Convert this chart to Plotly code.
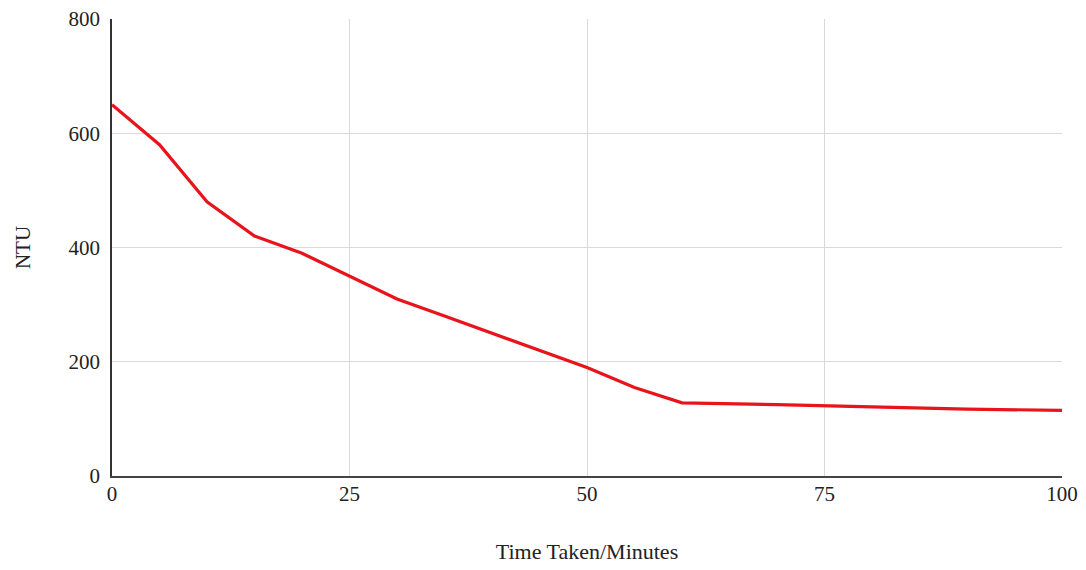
import plotly.graph_objects as go

time_min = [0, 5, 10, 15, 20, 25, 30, 35, 40, 45, 50, 55, 60, 70, 80, 90, 100]
ntu = [650, 580, 480, 420, 390, 350, 310, 280, 250, 220, 190, 155, 128, 125, 121, 117, 115]

x_ticks = [0, 25, 50, 75, 100]
y_ticks = [0, 200, 400, 600, 800]

fig = go.Figure()
fig.add_trace(go.Scatter(
    x=time_min, y=ntu, mode="lines",
    line=dict(color="#e8141c", width=3.2),
    showlegend=False,
))

serif = "Liberation Serif, Times New Roman, serif"
tick_font = dict(family=serif, size=21, color="#222")

fig.update_layout(
    width=1086, height=570,
    margin=dict(l=112, r=24, t=19, b=94, autoexpand=False),
    paper_bgcolor="white", plot_bgcolor="white",
    font=tick_font,
    xaxis=dict(
        range=[0, 100], tickvals=x_ticks, ticks="", showgrid=True,
        gridcolor="#d9d9d9", gridwidth=1, zeroline=False,
        showline=True, linecolor="#444", linewidth=2, automargin=False,
        title=dict(text="Time Taken/Minutes", standoff=38,
                   font=dict(family=serif, size=22, color="#222")),
        tickfont=tick_font, ticklabelstandoff=-2,
    ),
    yaxis=dict(
        range=[0, 800], tickvals=y_ticks, ticks="", showgrid=True,
        gridcolor="#d9d9d9", gridwidth=1, zeroline=False,
        showline=True, linecolor="#333", linewidth=1.5, automargin=False,
        title=dict(text="NTU", standoff=32,
                   font=dict(family=serif, size=21, color="#222")),
        tickfont=tick_font, ticklabelstandoff=6,
    ),
)

fig.write_html("out.html", config={"displayModeBar": False},
               post_script="document.body.style.margin='0';")
